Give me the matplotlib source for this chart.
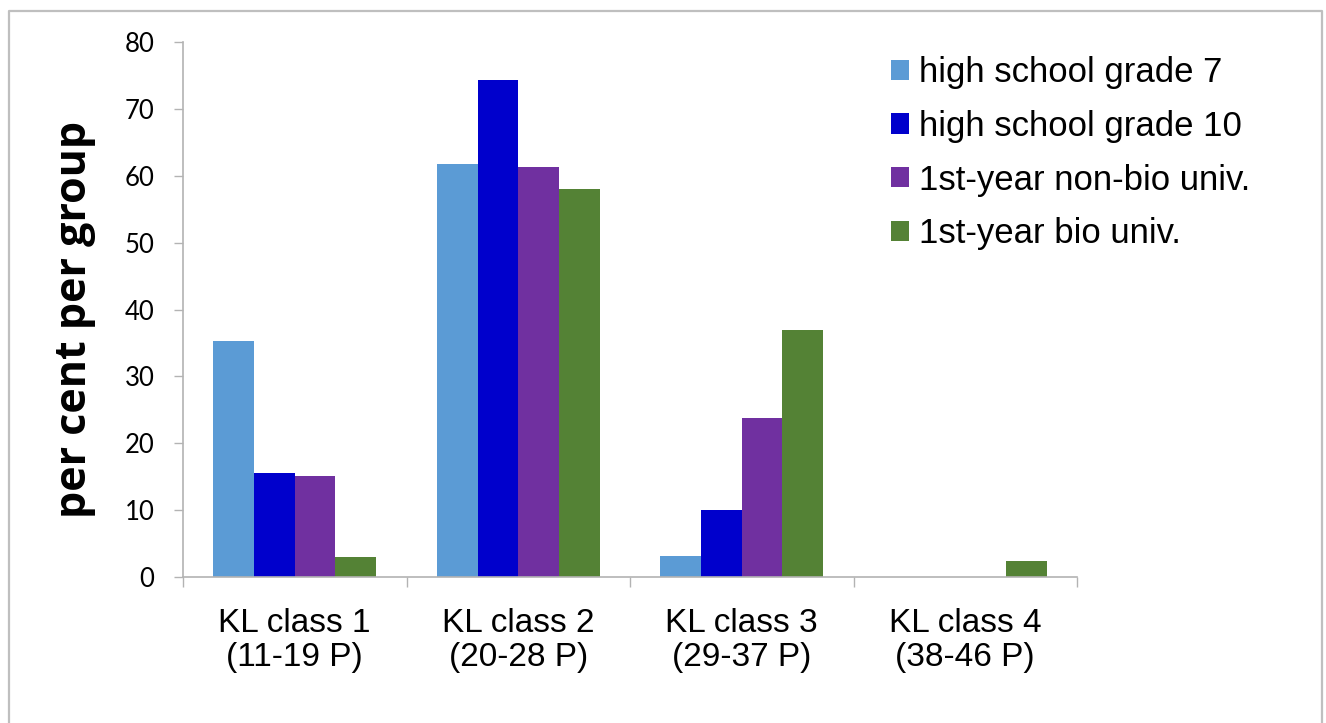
import matplotlib
matplotlib.use("Agg")
import matplotlib.pyplot as plt
import numpy as np
from matplotlib.lines import Line2D
from matplotlib.patches import Patch

categories = ["KL class 1\n(11-19 P)", "KL class 2\n(20-28 P)", "KL class 3\n(29-37 P)", "KL class 4\n(38-46 P)"]
series_names = ["high school grade 7", "high school grade 10", "1st-year non-bio univ.", "1st-year bio univ."]
grade7 = [35.3, 61.8, 3.1, 0.0]
grade10 = [15.5, 74.4, 10.0, 0.0]
nonbio = [15.1, 61.4, 23.8, 0.0]
bio = [3.0, 58.0, 37.0, 2.4]
yticks = [0, 10, 20, 30, 40, 50, 60, 70, 80]
colors = ["#5B9BD5", "#0000CC", "#7030A0", "#548235"]

W, H = 1326, 723
fig = plt.figure(figsize=(W / 100, H / 100), dpi=100)
# open frame: left, top, right edges
bx0, bx1, by = 8.5 / W, 1321.5 / W, 1 - 11 / H
fig.lines.append(Line2D([bx0, bx0, bx1, bx1], [0, by, by, 0], transform=fig.transFigure,
                        color="#BFBFBF", linewidth=1.6))

ax = fig.add_axes([183 / W, 1 - 577 / H, (1077 - 183) / W, (577 - 42.3) / H])
series = [grade7, grade10, nonbio, bio]
n = len(series)
bw = 1 / 5.5
x = np.arange(len(categories))
handles = []
for i, (vals, c, name) in enumerate(zip(series, colors, series_names)):
    ax.bar(x + (i - (n - 1) / 2) * bw, vals, width=bw, color=c, edgecolor="none", label=name)
    handles.append(Patch(facecolor=c, edgecolor="none", label=name))

ax.set_xlim(-0.5, len(categories) - 0.5)
ax.set_ylim(0, 80)
ax.set_yticks(yticks)
ax.set_yticklabels([str(t) for t in yticks], fontfamily="Lato", fontsize=18.5)
ax.tick_params(axis="y", length=6.5, width=1, color="#B3B3B3", pad=14)

ax.set_xticks(x)
ax.set_xticklabels(categories, fontfamily="Liberation Sans", fontsize=24, linespacing=1.15)
ax.tick_params(axis="x", which="major", length=0, pad=22)
ax.set_xticks(np.arange(len(categories) + 1) - 0.5, minor=True)
ax.tick_params(axis="x", which="minor", length=7, width=1, color="#B3B3B3")

for s in ["top", "right"]:
    ax.spines[s].set_visible(False)
for s in ["left", "bottom"]:
    ax.spines[s].set_color("#B3B3B3")
    ax.spines[s].set_linewidth(1.2)

fig.text(75 / W, 1 - 319 / H, "per cent per group", rotation=90, ha="center", va="center",
         fontfamily="Open Sans", fontweight="bold", fontsize=31)

leg = fig.legend(handles=handles, loc="upper left", bbox_to_anchor=(891 / W, 1 - 56 / H),
                 frameon=False, prop={"family": "Liberation Sans", "size": 25},
                 handlelength=0.52, handleheight=0.52, handletextpad=0.3, labelspacing=0.6,
                 borderaxespad=0, borderpad=0)

fig.savefig("out.png", dpi=100)
